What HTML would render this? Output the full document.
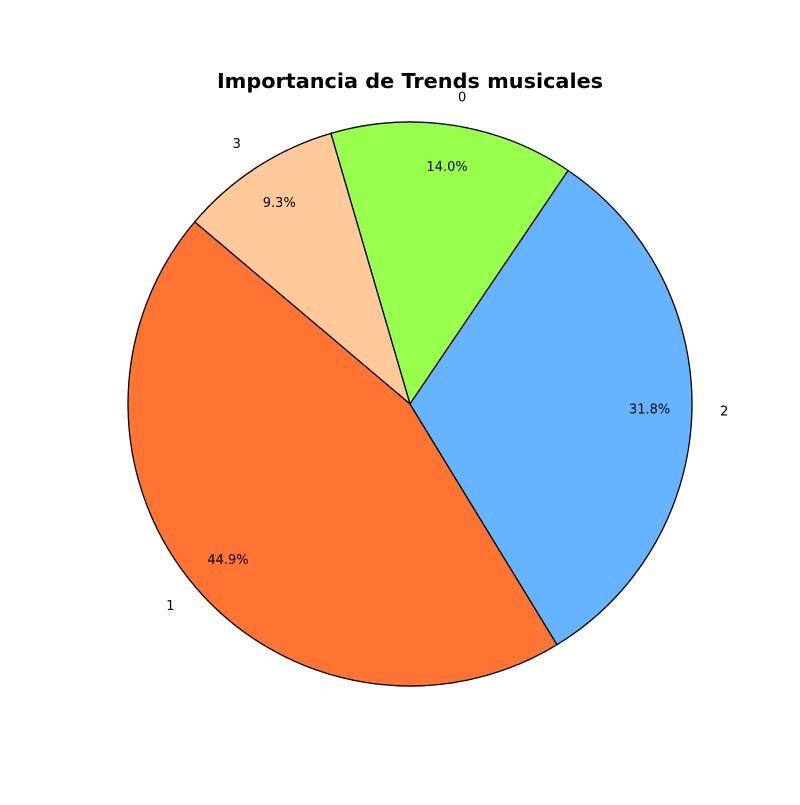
<!DOCTYPE html>
<html><head><meta charset="utf-8"><style>
body{margin:0;background:#fff}
svg text{font-family:"DejaVu Sans","Liberation Sans",sans-serif}
</style></head><body>
<svg id="chart" width="800" height="800" viewBox="0 0 800 800">
<rect width="800" height="800" fill="#fff"/>
<text x="410" y="88" text-anchor="middle" font-size="20.8" font-weight="bold">Importancia de Trends musicales</text>
<g id="slices"></g>
</svg>
<script>
const categories = ["0","3","1","2"];
const values = [14.0, 9.3, 44.9, 31.8];
const colors = ["#99ff4d","#ffc999","#ff7433","#66b3ff"];
const startAngle = 55.9;
const cx=410, cy=404, r=282;
const ns="http://www.w3.org/2000/svg";
const g=document.getElementById("slices");
const total=values.reduce((a,b)=>a+b,0);
function pt(deg,rad){const a=deg*Math.PI/180;return [cx+rad*Math.cos(a), cy-rad*Math.sin(a)];}
let ang=startAngle;
values.forEach((v,i)=>{
  const sweep=v/total*360, a0=ang, a1=ang+sweep;
  const p0=pt(a0,r), p1=pt(a1,r);
  const path=document.createElementNS(ns,"path");
  path.setAttribute("d",`M${cx},${cy} L${p0[0]},${p0[1]} A${r},${r} 0 ${sweep>180?1:0} 0 ${p1[0]},${p1[1]} Z`);
  path.setAttribute("fill",colors[i]);path.setAttribute("stroke","#000");path.setAttribute("stroke-width","1.3");path.setAttribute("stroke-linejoin","round");
  
  
  g.appendChild(path);
  const mid=(a0+a1)/2;
  const lp=pt(mid,r*1.1);
  const t=document.createElementNS(ns,"text");
  t.setAttribute("x",lp[0]);t.setAttribute("y",lp[1]+4);t.setAttribute("font-size","13");
  const c=Math.cos(mid*Math.PI/180);
  t.setAttribute("text-anchor",Math.abs(c)<0.05?"middle":(c>0?"start":"end"));
  t.textContent=categories[i];
  
  
  g.appendChild(t);
  const pp=pt(mid,r*0.85);
  const pt2=document.createElementNS(ns,"text");
  pt2.setAttribute("x",pp[0]);pt2.setAttribute("y",pp[1]+4);pt2.setAttribute("font-size","13");pt2.setAttribute("text-anchor","middle");
  pt2.textContent=v.toFixed(1)+"%";
  
  
  g.appendChild(pt2);
  ang=a1;
});
</script>
</body></html>
